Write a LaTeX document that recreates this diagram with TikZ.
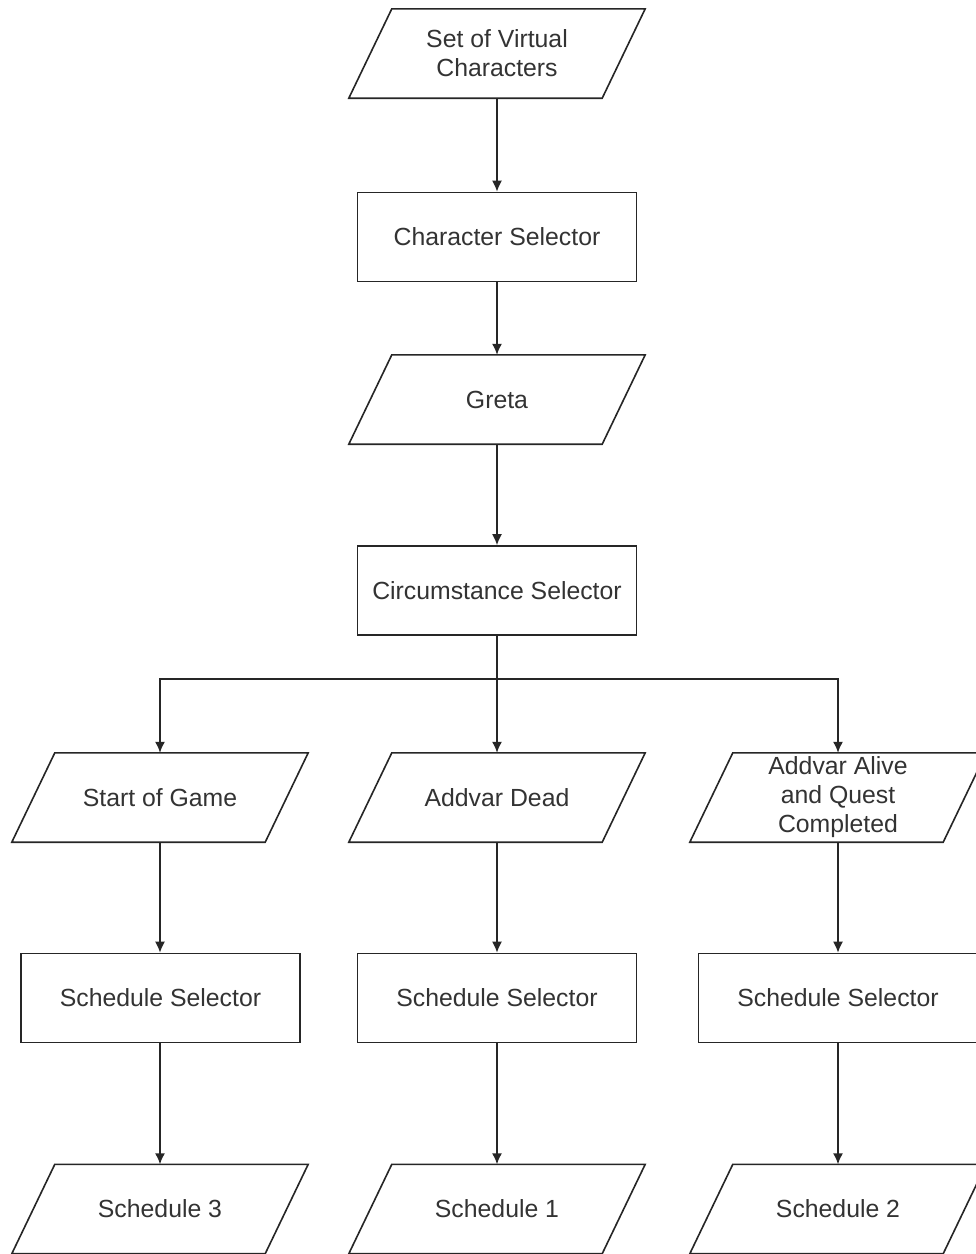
\documentclass[tikz,border=0pt]{standalone}
\usepackage{fontspec}
\setmainfont{Liberation Sans}
\usetikzlibrary{arrows.meta}

\tikzset{
  x=1pt, y=-1pt,
  every node/.style={text=black!80, font=\fontsize{24.8}{29}\selectfont, align=center, inner sep=0pt},
  procbox/.style={draw=black!85, line width=1.6pt, minimum width=279, minimum height=89},
  iobox/.style={minimum width=253, minimum height=89},
  flow/.style={draw=black!85, line width=1.6pt, -{Latex[length=11pt,width=10pt]}},
  edge/.style={draw=black!85, line width=1.6pt, line join=miter},
}

\begin{document}
\begin{tikzpicture}
\useasboundingbox (0,0) rectangle (976,1254);
\fill[white] (0,0) rectangle (976,1254);

% main chain
\node[iobox]   (chars)  at (497,53.5)  {Set of Virtual\\Characters};
\node[procbox] (csel)   at (497,237)   {Character Selector};
\node[iobox]   (greta)  at (497,399.5) {Greta};
\node[procbox] (circ)   at (497,590.5) {Circumstance Selector};
\coordinate    (split)  at (497,679);

% circumstances
\node[iobox]   (start)  at (160,797.5) {Start of Game};
\node[iobox]   (dead)   at (497,797.5) {Addvar Dead};
\node[iobox]   (alive)  at (838,797.5) {Addvar Alive\\and Quest\\Completed};

% schedule selectors
\node[procbox] (ssA)    at (160.5,998) {Schedule Selector};
\node[procbox] (ssB)    at (497,998)   {Schedule Selector};
\node[procbox] (ssC)    at (838,998)   {Schedule Selector};

% resulting schedules
\node[iobox]   (sch3)   at (160,1209)  {Schedule 3};
\node[iobox]   (sch1)   at (497,1209)  {Schedule 1};
\node[iobox]   (sch2)   at (838,1209)  {Schedule 2};

% parallelogram outlines for the data nodes
\foreach \n in {chars,greta,start,dead,alive,sch3,sch1,sch2}{
  \draw[edge] ([xshift=21.5]\n.north west) -- ([xshift=21.5]\n.north east)
    -- ([xshift=-21.5]\n.south east) -- ([xshift=-21.5]\n.south west) -- cycle;
}

% connectors
\draw[flow] (chars) -- (csel);
\draw[flow] (csel) -- (greta);
\draw[flow] (greta) -- (circ);
\draw[flow] (circ) -- (dead);
\draw[flow] (split) -| (start);
\draw[flow] (split) -| (alive);

\draw[flow] (start) -- (start |- ssA.north);
\draw[flow] (dead) -- (ssB);
\draw[flow] (alive) -- (ssC);

\draw[flow] (ssA.south -| sch3) -- (sch3);
\draw[flow] (ssB) -- (sch1);
\draw[flow] (ssC) -- (sch2);
\end{tikzpicture}
\end{document}
